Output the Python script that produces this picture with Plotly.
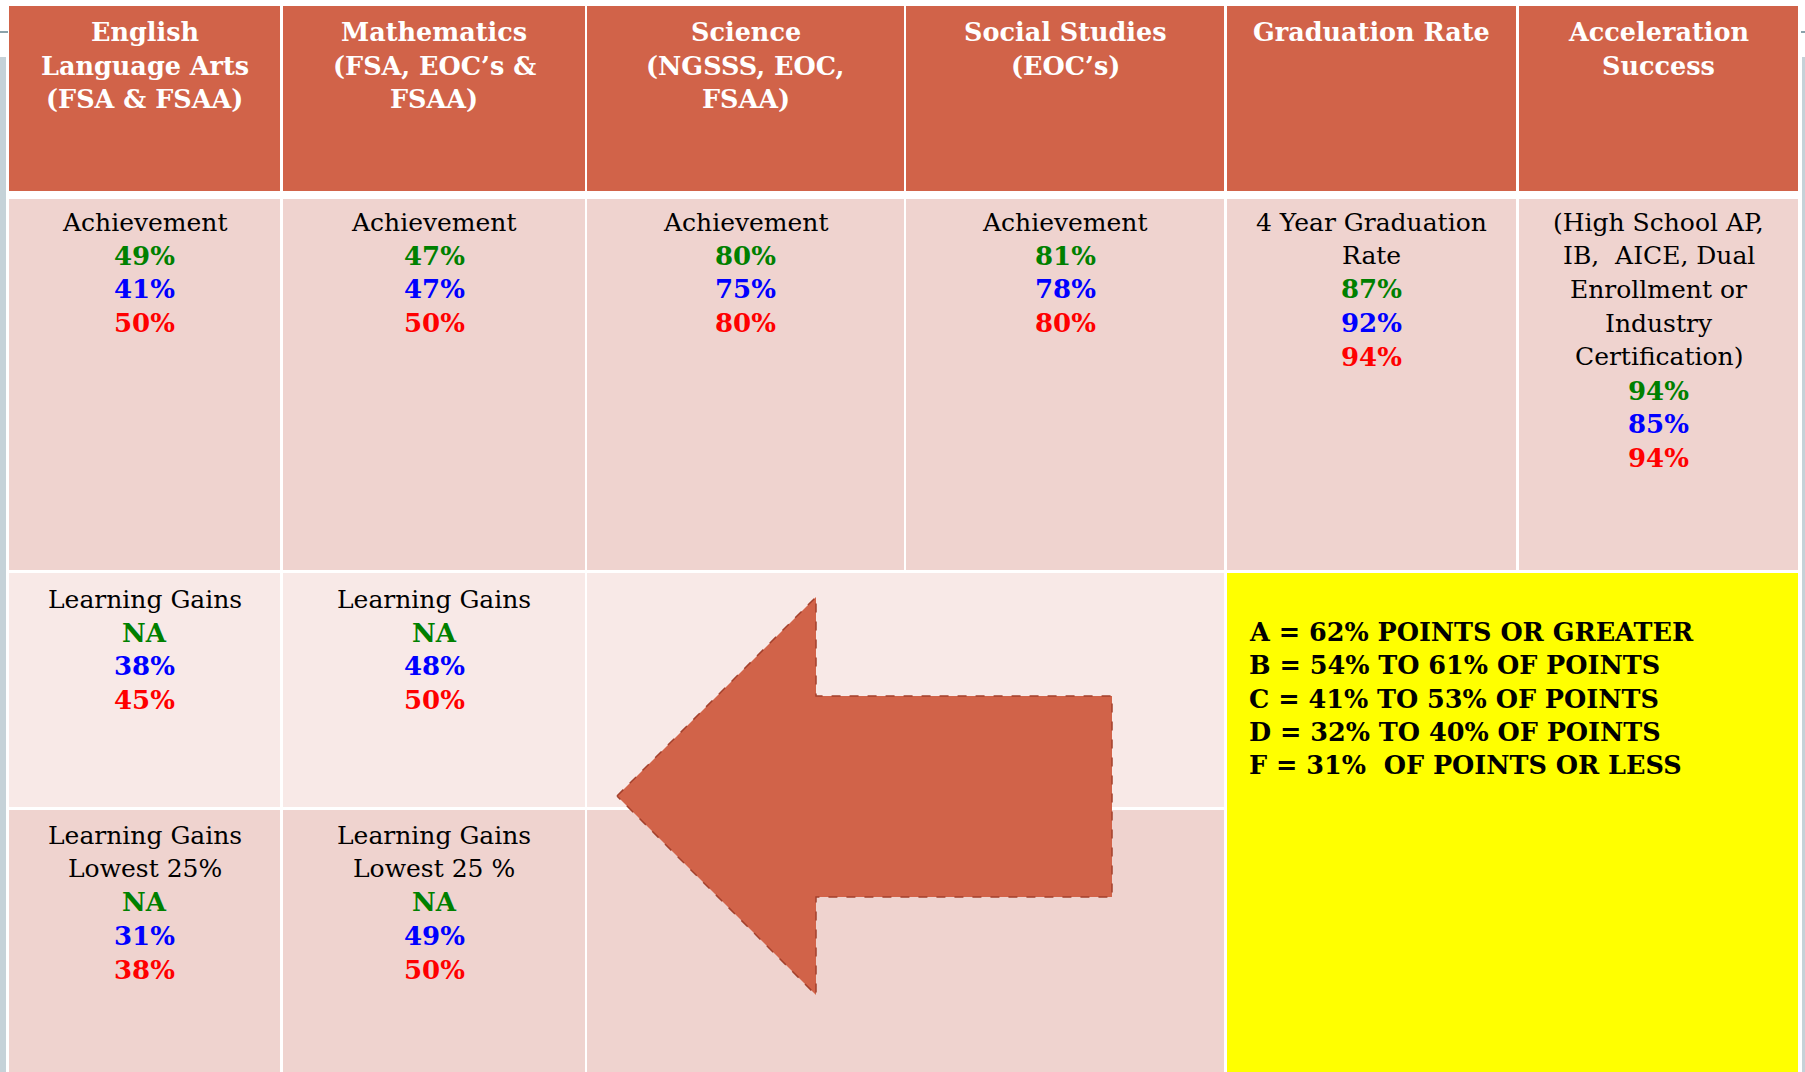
import plotly.graph_objects as go

# ---------------- data ----------------
headers = [
    ["English", "Language Arts", "(FSA & FSAA)"],
    ["Mathematics", "(FSA, EOC’s &", "FSAA)"],
    ["Science", "(NGSSS, EOC,", "FSAA)"],
    ["Social Studies", "(EOC’s)"],
    ["Graduation Rate"],
    ["Acceleration", "Success"],
]
row1_labels = [
    ["Achievement"],
    ["Achievement"],
    ["Achievement"],
    ["Achievement"],
    ["4 Year Graduation", "Rate"],
    ["(High School AP,", "IB,  AICE, Dual", "Enrollment or", "Industry", "Certification)"],
]
row1_green = ["49%", "47%", "80%", "81%", "87%", "94%"]
row1_blue = ["41%", "47%", "75%", "78%", "92%", "85%"]
row1_red = ["50%", "50%", "80%", "80%", "94%", "94%"]

row2_labels = [["Learning Gains"], ["Learning Gains"]]
row2_green = ["NA", "NA"]
row2_blue = ["38%", "48%"]
row2_red = ["45%", "50%"]

row3_labels = [["Learning Gains", "Lowest 25%"], ["Learning Gains", "Lowest 25 %"]]
row3_green = ["NA", "NA"]
row3_blue = ["31%", "49%"]
row3_red = ["38%", "50%"]

grade_scale = [
    "A = 62% POINTS OR GREATER",
    "B = 54% TO 61% OF POINTS",
    "C = 41% TO 53% OF POINTS",
    "D = 32% TO 40% OF POINTS",
    "F = 31%  OF POINTS OR LESS",
]

# ---------------- layout geometry ----------------
W, H = 1805, 1072
col_x0 = [9, 283, 587, 906, 1227, 1519]
col_x1 = [280, 585, 904, 1224, 1516, 1798]
head_y = (6, 191)
r1_y = (199, 570)
r2_y = (573, 807)
r3_y = (810, 1072)
LS = 33.7  # line spacing

HEAD_C = "#D16349"
ROW_DARK = "#EFD3CF"
ROW_LIGHT = "#F8E9E7"
GREEN, BLUE, RED = "#008000", "#0000FF", "#FF0000"
FONT = "Georgia, 'DejaVu Serif', serif"
FS_LABEL = 25
FS_VALUE = 26
FS_HEAD = 25.5
FS_GRADE = 25.5

shapes = []
annotations = []


def rect(x0, y0, x1, y1, color):
    shapes.append(dict(type="rect", xref="x", yref="y", x0=x0, x1=x1, y0=y0, y1=y1,
                       fillcolor=color, line=dict(width=0), layer="below"))


def text(x, y, s, color="black", bold=False, align="center", size=FS_LABEL):
    t = f"<b>{s}</b>" if bold else s
    annotations.append(dict(x=x, y=y, xref="x", yref="y", text=t, showarrow=False,
                            xanchor="center" if align == "center" else "left",
                            yanchor="middle",
                            font=dict(family=FONT, size=size, color=color)))


def cell_lines(cx, y_first, labels, g, b, r):
    y = y_first
    for s in labels:
        text(cx, y, s)
        y += LS
    for v, c in ((g, GREEN), (b, BLUE), (r, RED)):
        text(cx, y, v, color=c, bold=True, size=FS_VALUE)
        y += LS


# side decorations
rect(0, 57, 6, H, "#C5D2D8")
rect(1802, 57, W, H, "#C5D2D8")
shapes.append(dict(type="line", xref="x", yref="y", x0=0, x1=8, y0=32, y1=32,
                   line=dict(color="#8AA2AA", width=2), layer="below"))
shapes.append(dict(type="line", xref="x", yref="y", x0=1801, x1=W, y0=32, y1=32,
                   line=dict(color="#8AA2AA", width=2), layer="below"))

# header cells
for i in range(6):
    rect(col_x0[i], head_y[0], col_x1[i], head_y[1], HEAD_C)
    cx = (col_x0[i] + col_x1[i]) / 2
    for k, s in enumerate(headers[i]):
        text(cx, 32 + k * LS, s, color="white", bold=True, size=FS_HEAD)

# row 1
for i in range(6):
    rect(col_x0[i], r1_y[0], col_x1[i], r1_y[1], ROW_DARK)
    cx = (col_x0[i] + col_x1[i]) / 2
    cell_lines(cx, 222, row1_labels[i], row1_green[i], row1_blue[i], row1_red[i])

# rows 2 and 3 (first two columns)
for i in range(2):
    cx = (col_x0[i] + col_x1[i]) / 2
    rect(col_x0[i], r2_y[0], col_x1[i], r2_y[1], ROW_LIGHT)
    cell_lines(cx, 599, row2_labels[i], row2_green[i], row2_blue[i], row2_red[i])
    rect(col_x0[i], r3_y[0], col_x1[i], r3_y[1], ROW_DARK)
    cell_lines(cx, 835, row3_labels[i], row3_green[i], row3_blue[i], row3_red[i])

# merged middle area
rect(col_x0[2], r2_y[0], col_x1[3], r2_y[1], ROW_LIGHT)
rect(col_x0[2], r3_y[0], col_x1[3], r3_y[1], ROW_DARK)

# yellow grading box
rect(col_x0[4], r2_y[0], col_x1[5], r3_y[1], "#FFFF00")
for k, s in enumerate(grade_scale):
    text(1247, 632 + k * 33.3, s, bold=True, align="left", size=FS_GRADE)

# arrow (decorative shape)
arrow_x = [617, 816, 816, 1112, 1112, 816, 816, 617]
arrow_y = [796, 597, 696, 696, 897, 897, 995, 796]
fig = go.Figure(go.Scatter(x=arrow_x, y=arrow_y, mode="lines", fill="toself",
                           fillcolor=HEAD_C, line=dict(color="#A3402C", width=1.5, dash="dash"),
                           hoverinfo="skip"))

# tiny top decorations
annotations.append(dict(x=870, y=-4, xref="x", yref="y", text="»", showarrow=False,
                        font=dict(family=FONT, size=22, color="#7E9EA2")))
annotations.append(dict(x=937, y=-4, xref="x", yref="y", text="«", showarrow=False,
                        font=dict(family=FONT, size=22, color="#7E9EA2")))

fig.update_layout(
    width=W, height=H, margin=dict(l=0, r=0, t=0, b=0),
    paper_bgcolor="white", plot_bgcolor="white",
    xaxis=dict(range=[0, W], visible=False, fixedrange=True),
    yaxis=dict(range=[H, 0], visible=False, fixedrange=True),
    shapes=shapes, annotations=annotations, showlegend=False,
)
fig.write_html("out.html", config={"displayModeBar": False},
               post_script="document.body.style.margin='0';document.body.style.overflow='hidden';")
